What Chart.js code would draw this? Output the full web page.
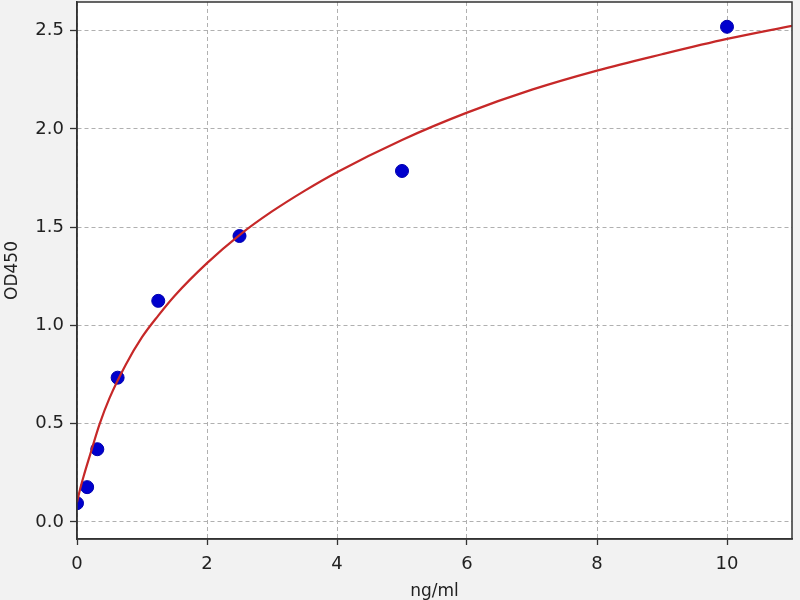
<!DOCTYPE html>
<html><head><meta charset="utf-8">
<script src="https://cdn.jsdelivr.net/npm/chart.js@4.4.1/dist/chart.umd.min.js"></script>
<style>html,body{margin:0;padding:0;background:#f2f2f2;}#wrap{width:800px;height:600px;}</style>
</head><body><div id="wrap"><canvas id="c" width="800" height="600"></canvas></div>
<script>
// Standard points (ng/ml vs OD450)
const concentrations = [0, 0.156, 0.3125, 0.625, 1.25, 2.5, 5, 10];
const odValues = [0.095, 0.177, 0.37, 0.734, 1.125, 1.455, 1.786, 2.52];
// Fitted curve
const curveX = [0, 0.05, 0.1, 0.2, 0.35, 0.5, 0.75, 1, 1.25, 1.5, 2, 2.5, 3, 3.5, 4, 5, 6, 7, 8, 9, 10, 11];
const curveY = [0.10, 0.17, 0.23, 0.34, 0.50, 0.63, 0.80, 0.94, 1.05, 1.15, 1.317, 1.46, 1.58, 1.685, 1.78, 1.944, 2.083, 2.20, 2.297, 2.38, 2.458, 2.525];
// Tick labels
const xTicks = [0, 2, 4, 6, 8, 10];
const yTicks = [0.0, 0.5, 1.0, 1.5, 2.0, 2.5];
const xTitle = 'ng/ml';
const yTitle = 'OD450';

const FONT = 'DejaVu Sans';

const bgPlugin = {
  id: 'bg',
  beforeDraw(chart) {
    const {ctx, chartArea: a} = chart;
    ctx.save();
    ctx.fillStyle = '#f2f2f2';
    ctx.fillRect(0, 0, chart.width, chart.height);
    ctx.fillStyle = '#ffffff';
    ctx.fillRect(a.left, a.top, a.right - a.left, a.bottom - a.top);
    ctx.restore();
  },
  afterDatasetsDraw(chart) {
    const {ctx, chartArea: a} = chart;
    ctx.save();
    ctx.strokeStyle = '#333333';
    ctx.lineWidth = 1.5;
    ctx.strokeRect(a.left, a.top, a.right - a.left, a.bottom - a.top);
    ctx.restore();
  }
};

function noPad(s) { s.paddingTop = 0; s.paddingBottom = 0; s.paddingLeft = 0; s.paddingRight = 0; }

new Chart(document.getElementById('c'), {
  type: 'scatter',
  data: {
    datasets: [
      {
        type: 'line',
        data: curveX.map((x, i) => ({x: x, y: curveY[i]})),
        borderColor: '#c62828',
        borderWidth: 2.2,
        pointRadius: 0,
        fill: false,
        cubicInterpolationMode: 'monotone',
        clip: 0,
        order: 0
      },
      {
        data: concentrations.map((x, i) => ({x: x, y: odValues[i]})),
        backgroundColor: '#0000cd',
        borderColor: '#0000b0',
        borderWidth: 1,
        pointRadius: 6.5,
        clip: 0,
        order: 1
      }
    ]
  },
  options: {
    responsive: false,
    animation: false,
    devicePixelRatio: 1,
    layout: {autoPadding: false, padding: {top: 2, right: 8, left: 0, bottom: 0}},
    plugins: {legend: {display: false}, tooltip: {enabled: false}},
    scales: {
      x: {
        type: 'linear', min: 0, max: 11,
        afterBuildTicks: s => { s.ticks = xTicks.map(v => ({value: v})); },
        afterFit: s => { s.height = 61; noPad(s); },
        ticks: {font: {family: FONT, size: 18}, color: '#222', padding: 9, callback: v => String(v)},
        grid: {color: '#b0b0b0', lineWidth: 1, tickColor: '#333', tickLength: 6, tickWidth: 1.3, tickBorderDash: []},
        border: {display: true, color: '#333', width: 1.5, dash: [4, 3]},
        title: {display: true, text: xTitle, font: {family: FONT, size: 17, lineHeight: 1}, color: '#222', padding: {top: 0, bottom: 0}}
      },
      y: {
        type: 'linear', min: -0.087, max: 2.646,
        afterBuildTicks: s => { s.ticks = yTicks.map(v => ({value: v})); },
        afterFit: s => { s.width = 77; noPad(s); },
        ticks: {font: {family: FONT, size: 18}, color: '#222', padding: 6, callback: v => v.toFixed(1)},
        grid: {color: '#b0b0b0', lineWidth: 1, tickColor: '#333', tickLength: 7, tickWidth: 1.3, tickBorderDash: []},
        border: {display: true, color: '#333', width: 1.5, dash: [4, 3]},
        title: {display: true, text: yTitle, font: {family: FONT, size: 17, lineHeight: 1}, color: '#222', padding: {top: 4, bottom: 0}}
      }
    }
  },
  plugins: [bgPlugin]
});
</script></body></html>
